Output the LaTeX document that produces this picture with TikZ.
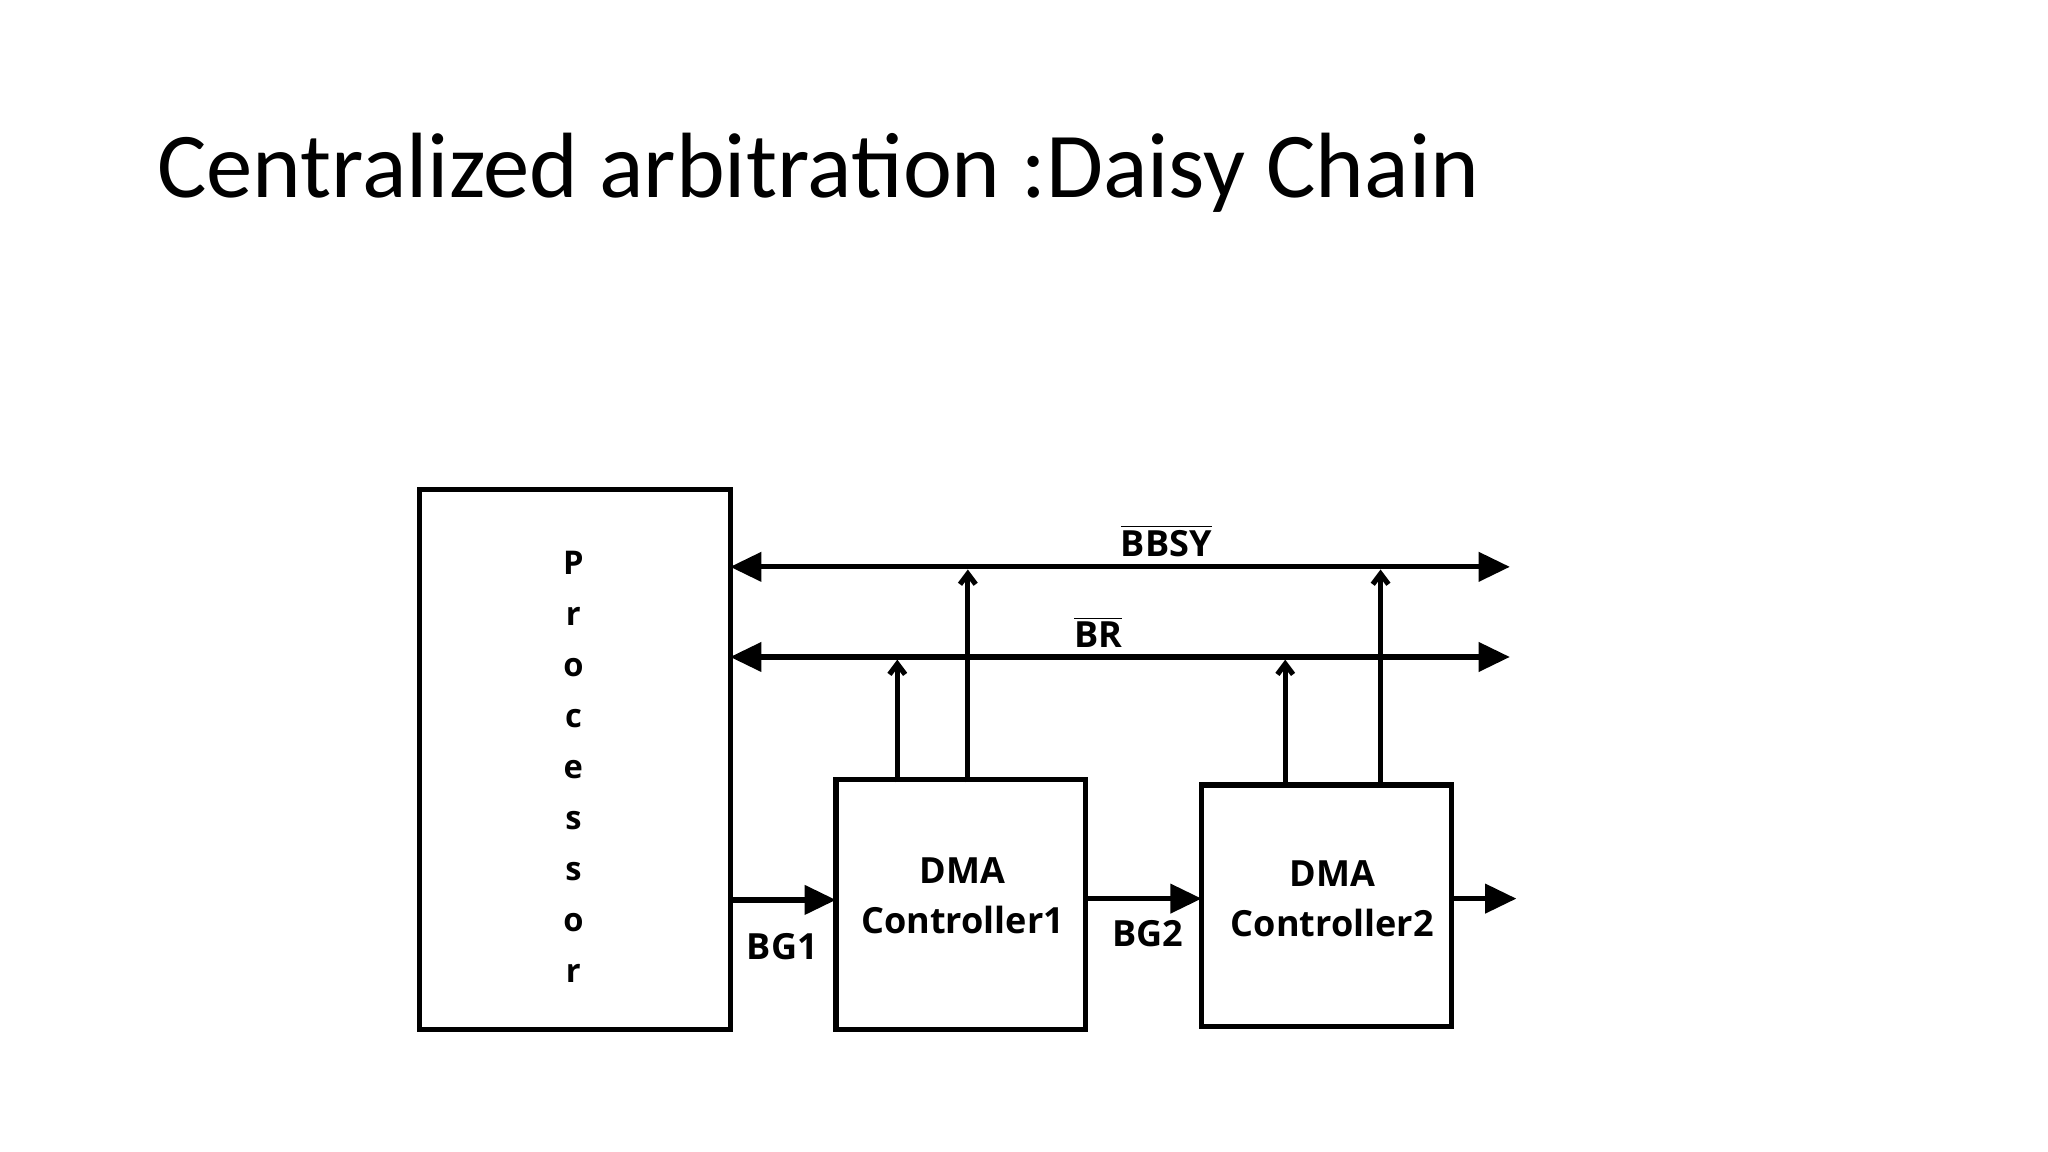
\documentclass[tikz,border=0pt]{standalone}
\usepackage{fontspec}
\setmainfont{Carlito}
\newfontfamily\lblfont{Open Sans}
\usetikzlibrary{arrows.meta}
\begin{document}
\begin{tikzpicture}[x=0.5pt,y=-0.5pt,
  blk/.style={draw,line width=2pt},
  bus/.style={line width=2pt,{Triangle[length=12pt,width=11pt]}-{Triangle[length=12pt,width=11pt]}},
  sig/.style={line width=2pt,-{Triangle[length=12pt,width=11pt]}},
  up/.style={line width=2pt,-{Straight Barb[length=4pt,width=6pt]}},
  lbl/.style={font=\lblfont\bfseries\fontsize{13.8}{16}\selectfont,align=center,inner sep=0pt}]
\useasboundingbox (0,0) rectangle (1568,882);
\node[anchor=west,inner sep=0pt,font=\fontsize{35.5}{40}\selectfont] (title) at (120,132) {Centralized arbitration :Daisy Chain};
\draw[blk] (321,375) rectangle (559,788);
\node[lbl,align=center,font=\lblfont\bfseries\fontsize{12.5}{19.5}\selectfont] (proc) at (439,587) {P\\r\\o\\c\\e\\s\\s\\o\\r};
\draw[blk] (640,597) rectangle (831,788);
\node[lbl] (d1) at (737,686) {DMA\\[3pt]Controller1};
\draw[blk] (920,601) rectangle (1111,786);
\node[lbl] (d2) at (1020,688) {DMA\\[3pt]Controller2};
\coordinate (bbl) at (559,434); \coordinate (bbr) at (1156,434);
\coordinate (brl) at (559,503); \coordinate (brr) at (1156,503);
\draw[bus] (bbl) -- (bbr);
\draw[bus] (brl) -- (brr);
\node[lbl] (bbsy) at (893,414) {$\overline{\mbox{BBSY}}$};
\node[lbl] (br) at (841,484) {$\overline{\mbox{BR}}$};
\draw[up] (687,599) -- (687,505);
\draw[up] (741,599) -- (741,436);
\draw[up] (984,603) -- (984,505);
\draw[up] (1057,603) -- (1057,436);
\draw[sig] (559,689) -- (640,689);
\draw[sig] (831,688) -- (920,688);
\draw[sig] (1111,688) -- (1161,688);
\node[lbl] (bg1) at (599,725) {BG1};
\node[lbl] (bg2) at (879,715) {BG2};
\end{tikzpicture}
\end{document}
